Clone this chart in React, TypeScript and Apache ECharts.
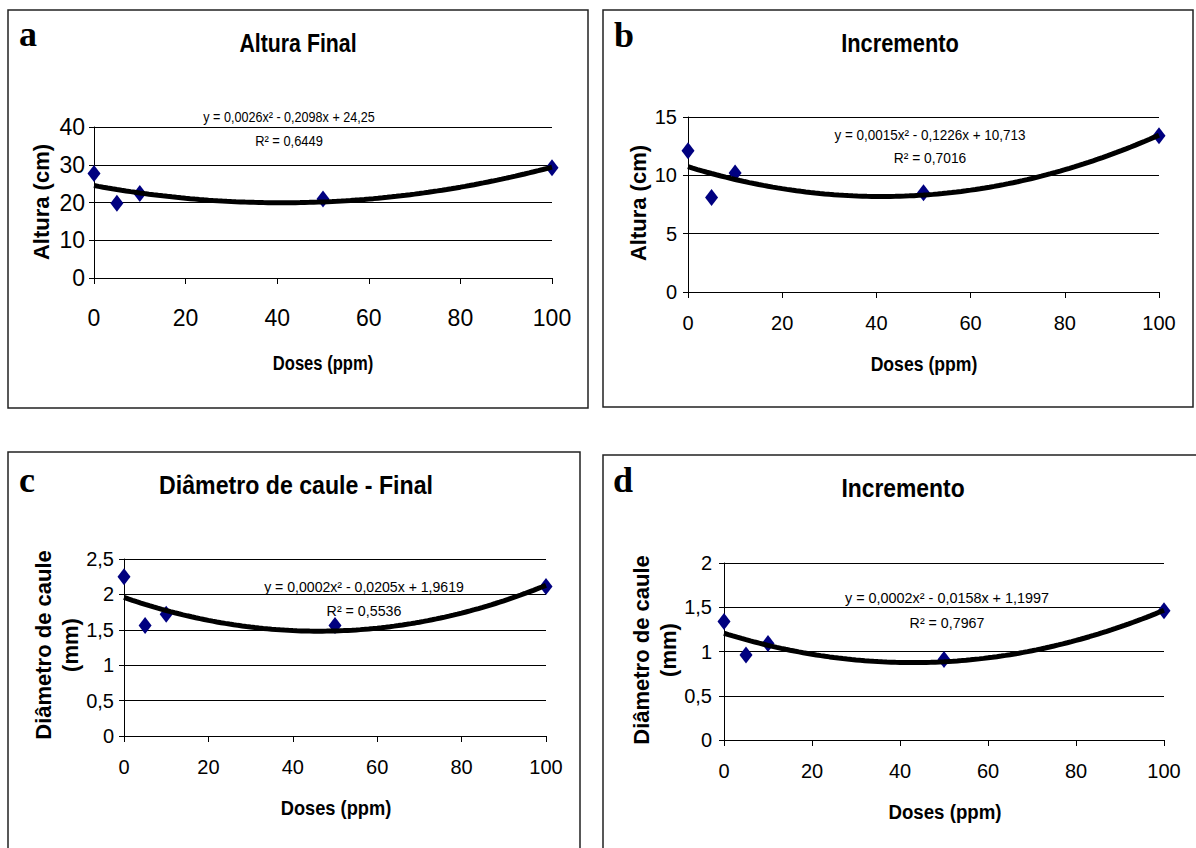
import React, { useEffect, useRef } from "react";
import * as echarts from "echarts";

// ---- data ----
const doses = [0, 5, 10, 50, 100];
const alturaFinal = [27.7, 19.8, 22.4, 20.9, 29.2];
const alturaIncremento = [12.1, 8.1, 10.2, 8.5, 13.4];
const diametroFinal = [2.25, 1.56, 1.72, 1.56, 2.11];
const diametroIncremento = [1.34, 0.96, 1.09, 0.91, 1.46];

const panelLetters = ["a", "b", "c", "d"];
const panelTitles = ["Altura Final", "Incremento", "Diâmetro de caule - Final", "Incremento"];
const yTitles = ["Altura (cm)", "Altura (cm)", "Diâmetro de caule\n(mm)", "Diâmetro de caule\n(mm)"];
const xTitle = "Doses (ppm)";
const equations = [
  "y = 0,0026x² - 0,2098x + 24,25",
  "y = 0,0015x² - 0,1226x + 10,713",
  "y = 0,0002x² - 0,0205x + 1,9619",
  "y = 0,0002x² - 0,0158x + 1,1997",
];
const r2Labels = ["R² = 0,6449", "R² = 0,7016", "R² = 0,5536", "R² = 0,7967"];
const yMax = [40, 15, 2.5, 2];
const yInterval = [10, 5, 0.5, 0.5];
const xMin = 0;
const xMax = 100;
const xInterval = 20;

const seriesValues = [alturaFinal, alturaIncremento, diametroFinal, diametroIncremento];

// ---- layout ----
const SANS = '"Liberation Sans", Arial, sans-serif';
const SERIF = '"Liberation Serif", "Times New Roman", serif';

const grids = [
  { left: 94, top: 127, width: 458, height: 151 },
  { left: 688, top: 117, width: 471, height: 175 },
  { left: 124, top: 559, width: 422, height: 177 },
  { left: 724, top: 563, width: 440, height: 177 },
];
const tickFont = [23, 20, 20, 20];
const xLabelMargin = [28, 21, 21, 21];
const yLabelMargin = [9, 11, 10, 12];
const borders = [
  { x: 8, y: 10, width: 580, height: 398 },
  { x: 603, y: 10, width: 590, height: 397 },
  { x: 8, y: 452, width: 572, height: 420 },
  { x: 603, y: 455, width: 620, height: 420 },
];
const letterPos = [[19, 34], [614, 35], [19, 480], [613, 480]];
const titlePos = [[298, 43], [900, 43], [296, 485], [903, 488]];
const titleScale = [0.82, 0.84, 0.89, 0.88];
const eqPos = [[289, 117], [930, 135], [364, 587], [947, 598]];
const eqScale = [0.84, 0.9, 0.94, 0.96];
const r2Pos = [[289, 141], [930, 158], [364, 611], [947, 623]];
const r2Scale = [0.86, 0.92, 0.95, 0.95];
const xTitlePos = [[323, 363], [924, 363], [336, 808], [945, 812]];
const xTitleScale = [0.79, 0.84, 0.87, 0.89];
const yTitlePos = [[41, 202], [638, 203], [57, 645], [655, 650]];

// least-squares quadratic trendline (as the spreadsheet computed it)
function fitQuadratic(xs: number[], ys: number[]) {
  let s0 = 0, s1 = 0, s2 = 0, s3 = 0, s4 = 0, t0 = 0, t1 = 0, t2 = 0;
  for (let i = 0; i < xs.length; i++) {
    const x = xs[i], y = ys[i];
    s0 += 1; s1 += x; s2 += x * x; s3 += x * x * x; s4 += x * x * x * x;
    t0 += y; t1 += x * y; t2 += x * x * y;
  }
  const M = [
    [s4, s3, s2, t2],
    [s3, s2, s1, t1],
    [s2, s1, s0, t0],
  ];
  for (let c = 0; c < 3; c++) {
    let p = c;
    for (let r = c + 1; r < 3; r++) if (Math.abs(M[r][c]) > Math.abs(M[p][c])) p = r;
    [M[c], M[p]] = [M[p], M[c]];
    for (let r = 0; r < 3; r++) {
      if (r === c) continue;
      const f = M[r][c] / M[c][c];
      for (let k = c; k < 4; k++) M[r][k] -= f * M[c][k];
    }
  }
  return [M[0][3] / M[0][0], M[1][3] / M[1][1], M[2][3] / M[2][2]];
}

function trendPoints(xs: number[], ys: number[]) {
  const [a, b, c] = fitQuadratic(xs, ys);
  const pts: number[][] = [];
  for (let x = xMin; x <= xMax; x += 1) pts.push([x, a * x * x + b * x + c]);
  return pts;
}

const fmt = (v: number) => String(v).replace(".", ",");

export default function App() {
  const ref = useRef<HTMLDivElement>(null);
  useEffect(() => {
    if (!ref.current) return;
    const chart = echarts.init(ref.current, null, { renderer: "svg" });

    const xAxis = grids.map((_, i) => ({
      type: "value",
      gridIndex: i,
      min: xMin,
      max: xMax,
      interval: xInterval,
      splitLine: { show: false },
      axisLine: { show: true, lineStyle: { color: "#000", width: 1 } },
      axisTick: { show: true, inside: false, length: 6, lineStyle: { color: "#000", width: 1 } },
      axisLabel: { color: "#000", fontSize: tickFont[i], fontFamily: SANS, margin: xLabelMargin[i] },
    }));
    const yAxis = grids.map((_, i) => ({
      type: "value",
      gridIndex: i,
      min: 0,
      max: yMax[i],
      interval: yInterval[i],
      splitLine: { show: true, lineStyle: { color: "#000", width: 1 } },
      axisLine: { show: true, lineStyle: { color: "#000", width: 1 } },
      axisTick: { show: true, inside: false, length: 5, lineStyle: { color: "#000", width: 1 } },
      axisLabel: { color: "#000", fontSize: tickFont[i], fontFamily: SANS, margin: yLabelMargin[i], formatter: fmt },
    }));

    const series: any[] = [];
    seriesValues.forEach((vals, i) => {
      series.push({
        type: "scatter",
        xAxisIndex: i,
        yAxisIndex: i,
        data: doses.map((d, k) => [d, vals[k]]),
        symbol: "diamond",
        symbolSize: [13, 17],
        itemStyle: { color: "#000080", opacity: 1 },
        z: 2,
      });
      series.push({
        type: "line",
        xAxisIndex: i,
        yAxisIndex: i,
        data: trendPoints(doses, vals),
        showSymbol: false,
        symbol: "none",
        lineStyle: { color: "#000", width: 5 },
        z: 3,
      });
    });

    const graphic: any[] = [];
    borders.forEach((b) => {
      graphic.push({
        type: "rect",
        shape: { x: b.x, y: b.y, width: b.width, height: b.height },
        style: { fill: "none", stroke: "#222", lineWidth: 1.5 },
        z: 0,
      });
    });
    for (let i = 0; i < 4; i++) {
      graphic.push({
        type: "text",
        x: letterPos[i][0],
        y: letterPos[i][1],
        style: { text: panelLetters[i], font: `bold 36px ${SERIF}`, fill: "#000", align: "left", verticalAlign: "middle" },
      });
      graphic.push({
        type: "text",
        x: titlePos[i][0],
        y: titlePos[i][1],
        scaleX: titleScale[i],
        style: { text: panelTitles[i], font: `bold 26px ${SANS}`, fill: "#000", align: "center", verticalAlign: "middle" },
      });
      graphic.push({
        type: "text",
        x: eqPos[i][0],
        y: eqPos[i][1],
        scaleX: eqScale[i],
        style: { text: equations[i], font: `15px ${SANS}`, fill: "#000", align: "center", verticalAlign: "middle" },
        z: 10,
      });
      graphic.push({
        type: "text",
        x: r2Pos[i][0],
        y: r2Pos[i][1],
        scaleX: r2Scale[i],
        style: { text: r2Labels[i], font: `15px ${SANS}`, fill: "#000", align: "center", verticalAlign: "middle" },
        z: 10,
      });
      graphic.push({
        type: "text",
        x: xTitlePos[i][0],
        y: xTitlePos[i][1],
        scaleX: xTitleScale[i],
        style: { text: xTitle, font: `bold 21px ${SANS}`, fill: "#000", align: "center", verticalAlign: "middle" },
      });
      graphic.push({
        type: "text",
        x: yTitlePos[i][0],
        y: yTitlePos[i][1],
        rotation: Math.PI / 2,
        style: {
          text: yTitles[i],
          font: `bold 22px ${SANS}`,
          lineHeight: 27,
          fill: "#000",
          align: "center",
          verticalAlign: "middle",
        },
      });
    }

    chart.setOption({
      animation: false,
      backgroundColor: "#fff",
      grid: grids.map((g) => ({ ...g, containLabel: false, outerBoundsMode: "none" })),
      xAxis,
      yAxis,
      series,
      graphic,
    });
    return () => chart.dispose();
  }, []);

  return (
    <div
      ref={ref}
      style={{ position: "fixed", left: 0, top: 0, width: 1196, height: 848, background: "#fff" }}
    />
  );
}
